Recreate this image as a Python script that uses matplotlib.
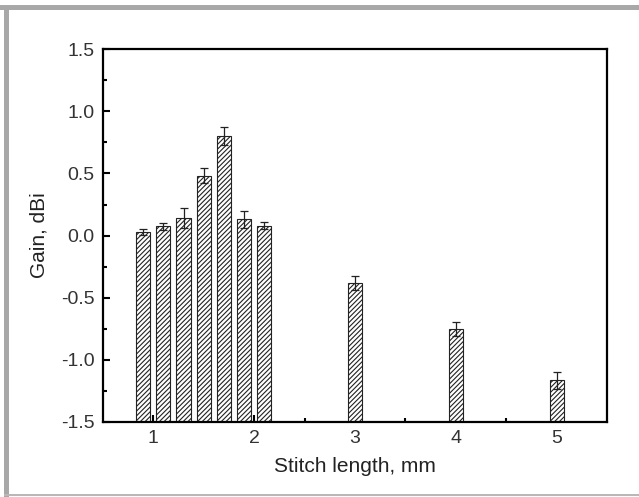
import matplotlib
matplotlib.use('Agg')
import matplotlib.pyplot as plt
from matplotlib.patches import Rectangle

plt.rcParams['font.family'] = ['Liberation Sans', 'DejaVu Sans']
plt.rcParams['hatch.linewidth'] = 0.8

# stitch length positions and measured gain
stitch = [0.9, 1.1, 1.3, 1.5, 1.7, 1.9, 2.1, 3, 4, 5]
gain = [0.03, 0.075, 0.14, 0.48, 0.80, 0.13, 0.08, -0.38, -0.75, -1.165]
err = [0.025, 0.03, 0.08, 0.06, 0.07, 0.07, 0.03, 0.056, 0.056, 0.07]

BASE = -1.5

fig = plt.figure(figsize=(6.39, 4.97), dpi=100)
ax = fig.add_axes([0.161, 0.151, 0.789, 0.750])

heights = [g - BASE for g in gain]
ax.bar(stitch, heights, bottom=BASE, width=0.14, color='white',
       edgecolor='#222222', linewidth=0.8, hatch='///////', zorder=2)
ax.errorbar(stitch, gain, yerr=err, fmt='none', ecolor='#222222',
            elinewidth=0.9, capsize=3, capthick=0.9, zorder=3)

ax.set_xlim(0.5, 5.5)
ax.set_ylim(-1.5, 1.5)
ax.set_xticks([1, 2, 3, 4, 5])
ax.set_xticks([1.5, 2.5, 3.5, 4.5], minor=True)
ax.set_yticks([-1.5, -1.0, -0.5, 0.0, 0.5, 1.0, 1.5])
ax.set_yticks([-1.25, -0.75, -0.25, 0.25, 0.75, 1.25], minor=True)
ax.set_yticklabels(['-1.5', '-1.0', '-0.5', '0.0', '0.5', '1.0', '1.5'])

ax.tick_params(which='major', direction='in', length=5, width=1.5,
               labelsize=14, colors='black', pad=6)
ax.tick_params(which='minor', direction='in', length=3, width=1.5)
ax.tick_params(axis='both', labelcolor='#333333')
for s in ax.spines.values():
    s.set_linewidth(1.6)
    s.set_zorder(4)

ax.set_xlabel('Stitch length, mm', fontsize=15, color='#222222', labelpad=7)
ax.set_ylabel('Gain, dBi', fontsize=15, color='#222222', labelpad=9)

# gray frame around the figure (top, left, bottom)
fig.patches.append(Rectangle((0, 1 - 10 / 497), 1, 5 / 497, transform=fig.transFigure,
                             facecolor='#a8a8a8', edgecolor='none'))
fig.patches.append(Rectangle((4 / 639, 0), 5 / 639, 1 - 5 / 497, transform=fig.transFigure,
                             facecolor='#a8a8a8', edgecolor='none'))
fig.patches.append(Rectangle((4 / 639, 1 / 497), 1, 2 / 497, transform=fig.transFigure,
                             facecolor='#b8b8b8', edgecolor='none'))

fig.savefig('out.png', dpi=100)
